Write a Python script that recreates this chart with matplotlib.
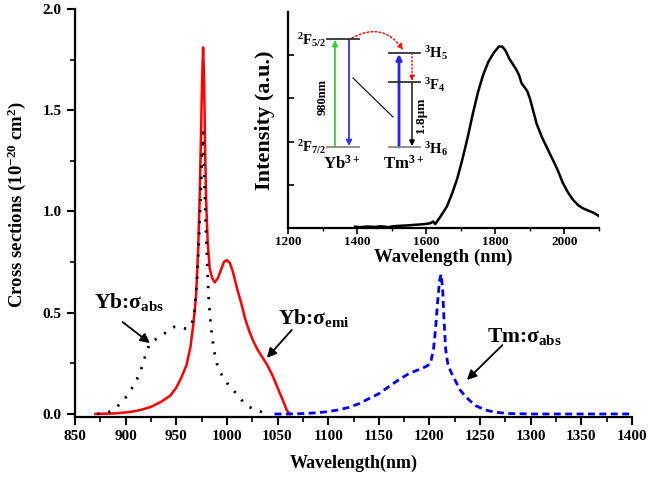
#!/usr/bin/env python3

import matplotlib
matplotlib.use('agg')
import matplotlib.pyplot as plt
from matplotlib.patches import FancyArrowPatch
from matplotlib.ticker import MultipleLocator

plt.rcParams['font.family'] = ['Liberation Serif', 'DejaVu Serif']
plt.rcParams['font.weight'] = 'bold'
plt.rcParams['mathtext.fontset'] = 'custom'
plt.rcParams['mathtext.bf'] = 'Liberation Serif:bold'
plt.rcParams['mathtext.rm'] = 'Liberation Serif:bold'
plt.rcParams['mathtext.default'] = 'bf'

# Yb emission cross section (red)
yb_emi_wl = [870, 890, 905, 915, 925, 935, 944, 950, 955, 960, 964, 967, 969.5,
             971.5, 973, 974.5, 975.5, 976.5, 977.5, 978.5, 979.5, 981, 983,
             985.5, 988, 991, 994, 997, 1000, 1003, 1006, 1010, 1014, 1018,
             1022, 1026, 1030, 1035, 1040, 1045, 1050, 1055, 1059, 1062]
yb_emi = [0.0, 0.003, 0.01, 0.02, 0.035, 0.06, 0.09, 0.13, 0.18, 0.24, 0.33,
          0.45, 0.58, 0.8, 1.05, 1.4, 1.65, 1.81, 1.65, 1.3, 1.05, 0.85, 0.72,
          0.67, 0.65, 0.67, 0.71, 0.75, 0.76, 0.745, 0.70, 0.62, 0.55, 0.47,
          0.41, 0.36, 0.32, 0.28, 0.24, 0.19, 0.13, 0.07, 0.02, 0.0]

# Yb absorption cross section (black dotted)
yb_abs_wl = [872, 884, 895, 903, 909, 914, 919, 924, 930, 936, 942, 948, 954,
             960, 965, 968, 971, 973.5, 975.5, 976.5, 977.5, 979, 980.5, 982,
             984, 987, 990, 994, 998, 1002, 1006, 1011, 1016, 1022, 1028, 1034,
             1040]
yb_abs = [0.0, 0.01, 0.05, 0.10, 0.15, 0.2, 0.28, 0.35, 0.37, 0.39, 0.41,
          0.43, 0.43, 0.42, 0.44, 0.50, 0.70, 1.0, 1.3, 1.39, 1.2, 0.95, 0.75,
          0.57, 0.44, 0.32, 0.25, 0.20, 0.17, 0.14, 0.12, 0.09, 0.06, 0.035,
          0.02, 0.01, 0.0]

# Tm absorption cross section (blue dashed)
tm_abs_wl = [1047, 1060, 1075, 1090, 1100, 1110, 1120, 1130, 1140, 1150, 1160,
             1170, 1180, 1190, 1197, 1201, 1204, 1206, 1208, 1210, 1211.5,
             1213, 1214.5, 1216, 1218, 1221, 1225, 1230, 1235, 1240, 1246,
             1255, 1265, 1280, 1300, 1350, 1400]
tm_abs = [0.0, 0.0, 0.002, 0.006, 0.012, 0.02, 0.032, 0.05, 0.075, 0.10,
          0.135, 0.17, 0.20, 0.22, 0.235, 0.25, 0.32, 0.42, 0.55, 0.66, 0.69,
          0.62, 0.45, 0.32, 0.25, 0.21, 0.17, 0.12, 0.09, 0.065, 0.04, 0.02,
          0.008, 0.002, 0.0, 0.0, 0.0]

# Tm emission spectrum (inset)
em_wl = [1394, 1410, 1430, 1450, 1470, 1490, 1500, 1520, 1545, 1570, 1595,
         1612, 1620, 1626, 1640, 1660, 1675, 1690, 1705, 1720, 1735, 1750,
         1765, 1780, 1795, 1810, 1820, 1830, 1840, 1850, 1860, 1868, 1876,
         1885, 1892, 1900, 1910, 1920, 1935, 1950, 1965, 1980, 1995, 2010,
         2025, 2040, 2055, 2070, 2085, 2100]
em_int = [0.006, 0.004, 0.007, 0.005, 0.008, 0.004, 0.007, 0.01, 0.012, 0.015,
          0.018, 0.022, 0.03, 0.018, 0.05, 0.10, 0.16, 0.23, 0.32, 0.42, 0.53,
          0.63, 0.71, 0.77, 0.81, 0.84, 0.84, 0.82, 0.785, 0.76, 0.735, 0.71,
          0.67, 0.65, 0.635, 0.60, 0.54, 0.48, 0.42, 0.37, 0.32, 0.27, 0.21,
          0.165, 0.13, 0.105, 0.09, 0.08, 0.07, 0.055]

W, H = 648, 479
fig = plt.figure(figsize=(W / 100, H / 100), dpi=100)

def px_axes(x0, y0, x1, y1):
    # axes rectangle given in pixel corners (top-left origin)
    return fig.add_axes([x0 / W, 1 - y1 / H, (x1 - x0) / W, (y1 - y0) / H])

def style_axes(ax):
    for s in ('top', 'right'):
        ax.spines[s].set_visible(False)
    for s in ('left', 'bottom'):
        ax.spines[s].set_linewidth(1.6)

# main panel
ax = px_axes(75, 9, 632, 417)
style_axes(ax)
ax.plot(yb_emi_wl, yb_emi, color='red', lw=1.8)
ax.plot(yb_abs_wl, yb_abs, color='black', lw=2, ls=(0, (0.8, 3.2)))
ax.plot(tm_abs_wl, tm_abs, color='blue', lw=2, ls=(0, (2.5, 1.6)))
ax.set_xlim(850, 1400)
ax.set_ylim(-0.015, 2.0)
ax.xaxis.set_major_locator(MultipleLocator(50))
ax.xaxis.set_minor_locator(MultipleLocator(25))
ax.yaxis.set_major_locator(MultipleLocator(0.5))
ax.yaxis.set_minor_locator(MultipleLocator(0.25))
ax.yaxis.set_major_formatter('{x:.1f}')
ax.tick_params(which='major', direction='out', length=6, width=1.5,
               labelsize=11)
ax.tick_params(which='minor', direction='out', length=3.5, width=1.2)
ax.set_xlabel('Wavelength(nm)', fontsize=13, fontweight='bold', labelpad=8)
ax.set_ylabel('Cross sections (10$^{-20}$ cm$^{2}$)', fontsize=13.5,
              fontweight='bold')
ax.yaxis.set_label_coords(-0.085, 0.52)

# curve labels with pointer arrows
arrow_kw = dict(arrowstyle='-|>', color='black', lw=1.3, mutation_scale=14,
                shrinkA=0, shrinkB=0)
lab_kw = dict(fontsize=15.5, fontweight='bold', ha='left', va='center')
ax.text(869, 0.553, 'Yb:σ$_{abs}$', **lab_kw)
ax.annotate('', xy=(924, 0.35), xytext=(897, 0.454), arrowprops=arrow_kw)
ax.text(1050, 0.474, 'Yb:σ$_{emi}$', **lab_kw)
ax.annotate('', xy=(1039.5, 0.277), xytext=(1064, 0.415), arrowprops=arrow_kw)
ax.text(1257, 0.385, 'Tm:σ$_{abs}$', **lab_kw)
ax.annotate('', xy=(1237, 0.168), xytext=(1272, 0.34), arrowprops=arrow_kw)

# inset: emission spectrum
ins = px_axes(288, 12, 599, 228)
style_axes(ins)
ins.patch.set_alpha(0)
ins.plot(em_wl, em_int, color='black', lw=1.8)
ins.set_xlim(1200, 2100)
ins.set_ylim(0, 1.0)
ins.xaxis.set_major_locator(MultipleLocator(200))
ins.xaxis.set_minor_locator(MultipleLocator(100))
ins.set_yticks([0.2, 0.4, 0.6, 0.8])
ins.set_yticklabels([])
ins.tick_params(axis='x', which='major', direction='out', length=4,
                width=1.2, labelsize=9.5, pad=2)
ins.tick_params(axis='x', which='minor', direction='out', length=2.5,
                width=1.0)
ins.tick_params(axis='y', direction='in', length=4, width=1.2)
ins.set_xlabel('Wavelength (nm)', fontsize=13.5, fontweight='bold',
               labelpad=0)
ins.set_ylabel('Intensity (a.u.)', fontsize=16, fontweight='bold', labelpad=6)

# energy level scheme, drawn in pixel coordinates over the inset
ov = fig.add_axes([0, 0, 1, 1])
ov.set_xlim(0, W)
ov.set_ylim(H, 0)
ov.axis('off')
ov.patch.set_alpha(0)

lvl = dict(color='#333333', lw=1.3)
ov.plot([327, 359], [39, 39], **lvl)
ov.plot([327, 359], [147, 147], color='#888888', lw=1.3)
ov.plot([389, 420], [53, 53], **lvl)
ov.plot([389, 420], [82, 82], **lvl)
ov.plot([389, 420], [147, 147], color='#888888', lw=1.3)

def arrow(x0, y0, x1, y1, color, lw=1.3, ls='-', cs='arc3'):
    ov.add_patch(FancyArrowPatch((x0, y0), (x1, y1), arrowstyle='-|>',
                                 color=color, lw=lw, linestyle=ls,
                                 mutation_scale=8, connectionstyle=cs,
                                 shrinkA=0, shrinkB=0))

arrow(335, 147, 335, 40, '#22dd22')
arrow(349, 39, 349, 146, '#3333ff')
arrow(399, 147, 399, 54, '#2222ff', lw=2)
arrow(412, 82, 412, 146, 'black', lw=1)
arrow(412, 53, 412, 81, 'red', lw=1, ls=':')
arrow(352, 38, 403, 50, 'red', lw=1.1, ls=':', cs='arc3,rad=-0.45')
ov.plot([353, 393], [78, 117], color='black', lw=0.8)

lab = dict(fontsize=10.5, fontweight='bold', va='center')
ov.text(326, 40, '$^{2}$F$_{5/2}$', ha='right', **lab)
ov.text(326, 147, '$^{2}$F$_{7/2}$', ha='right', **lab)
ov.text(424, 53, '$^{3}$H$_{5}$', ha='left', **lab)
ov.text(424, 85, '$^{3}$F$_{4}$', ha='left', **lab)
ov.text(424, 149, '$^{3}$H$_{6}$', ha='left', **lab)
ov.text(323, 97, '980nm', ha='center', rotation=90, fontsize=9,
        fontweight='bold', va='center')
ov.text(421, 115, '1.8μm', ha='center', rotation=90, fontsize=9.5,
        fontweight='bold', va='center')
ov.text(342, 164, 'Yb$^{3+}$', ha='center', fontsize=12, fontweight='bold',
        va='center')
ov.text(404, 164, 'Tm$^{3+}$', ha='center', fontsize=12, fontweight='bold',
        va='center')

fig.savefig('out.png', dpi=100)
